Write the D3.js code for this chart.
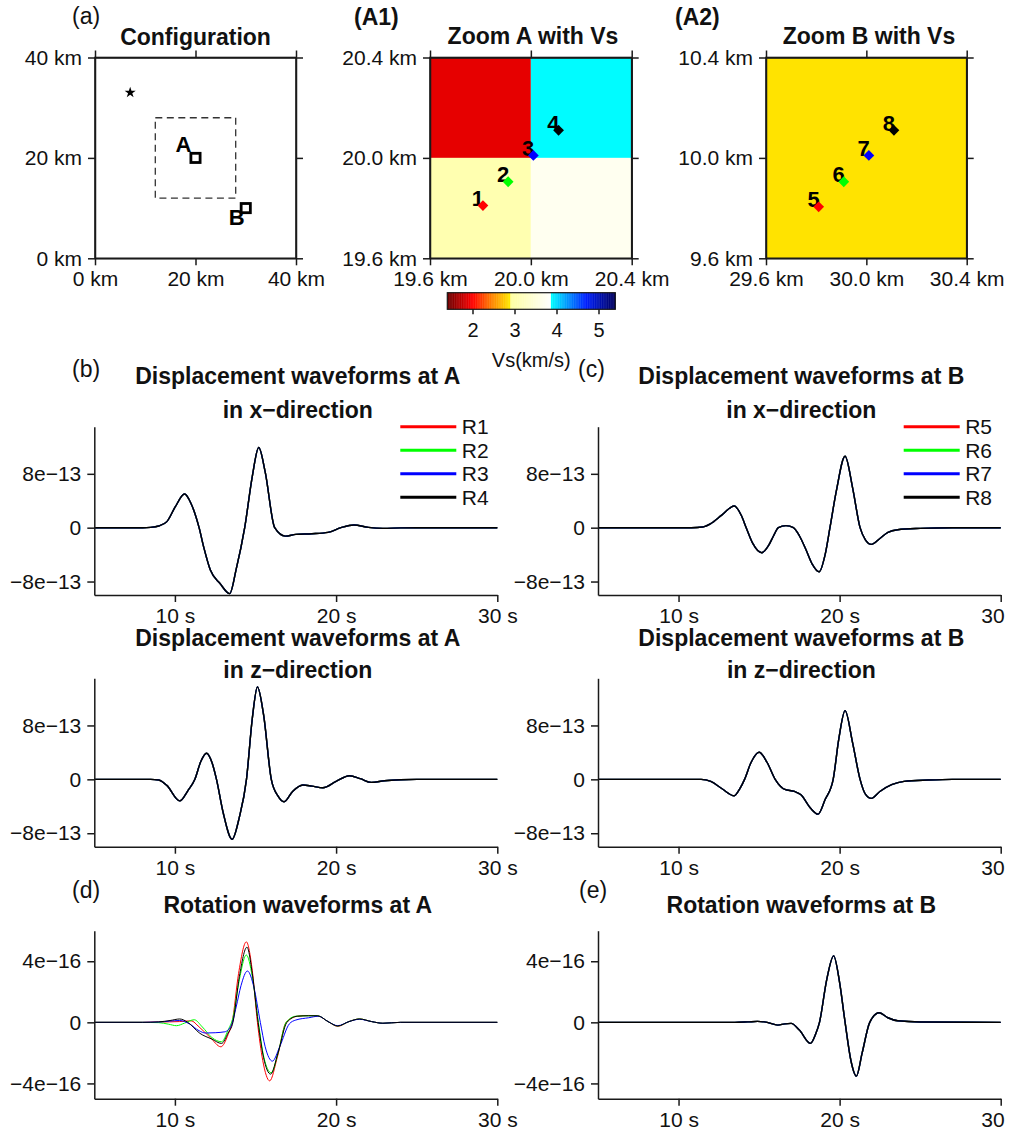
<!DOCTYPE html>
<html><head><meta charset="utf-8">
<script src="https://cdn.jsdelivr.net/npm/d3@7"></script>
<style>
body{margin:0;background:#fff;}
svg{display:block;font-family:"Liberation Sans",Arial,Helvetica,sans-serif;}
</style></head><body>
<svg id="chart" width="1009" height="1136"></svg>
<script>
// ---------------- DATA ----------------
// (a) configuration, km
const sourceXY = [7, 33];
const zoomBoxX = [12, 28];
const zoomBoxY = [12, 28];
const stationNames = ["A", "B"];
const stationX = [20, 30];
const stationY = [20, 10];
const configTicks = [0, 20, 40];

// (A1) Vs cells around A (km, km/s)
const cellAx0 = [19.6, 20.0, 19.6, 20.0];
const cellAx1 = [20.0, 20.4, 20.0, 20.4];
const cellAy0 = [20.0, 20.0, 19.6, 19.6];
const cellAy1 = [20.4, 20.4, 20.0, 20.0];
const cellAvs = [1.9, 3.88, 3.06, 3.72];
const zoomATicks = [19.6, 20.0, 20.4];
// (A2) Vs cell around B
const cellBx0 = [29.6], cellBx1 = [30.4], cellBy0 = [9.6], cellBy1 = [10.4], cellBvs = [2.87];
const zoomBTicksX = [29.6, 30.0, 30.4];
const zoomBTicksY = [9.6, 10.0, 10.4];

// receivers
const recALabels = ["1", "2", "3", "4"];
const recAX = [19.81, 19.91, 20.01, 20.11];
const recAY = [19.81, 19.905, 20.01, 20.11];
const recBLabels = ["5", "6", "7", "8"];
const recBX = [29.81, 29.91, 30.01, 30.11];
const recBY = [9.805, 9.905, 10.01, 10.11];
const recColors = ["#ff0000", "#00ff00", "#0000ff", "#000000"];

// colour palette for Vs
const cbDomain = [1.4, 2.0, 2.45, 2.9, 2.9001, 3.87, 3.8701, 4.7, 5.4];
const cbColors = ["#6a0000", "#ff0000", "#ff8000", "#ffea00", "#ffffa0", "#ffffff", "#00ffff", "#0020ff", "#00005a"];
const cbTicks = [2, 3, 4, 5];

// waveforms: time (s) and amplitude
const timeTicks = [10, 20, 30];
const dispTicks = [-8, 0, 8];              // x 1e-13
const dispTickLabels = ["\u22128e\u221213", "0", "8e\u221213"];
const rotTicks = [-4, 0, 4];               // x 1e-16
const rotTickLabels = ["\u22124e\u221216", "0", "4e\u221216"];
const legendA = ["R1", "R2", "R3", "R4"];
const legendB = ["R5", "R6", "R7", "R8"];

// Displacement at A, x-direction (1e-13)
const dispAX_t = [5, 8, 8.5, 9, 9.5, 10, 10.6, 11, 11.5, 11.8, 12.2, 12.8, 13.4, 13.8, 14.33, 14.8, 15.2, 15.6, 16.19, 16.85, 17.5, 18.5, 19.5, 20.3, 21.1, 22, 22.9, 24, 25, 30];
const dispAX_v = [0, 0, 0.05, 0.25, 0.9, 3.0, 5.0, 3.6, 0, -3.0, -6.3, -8.3, -9.8, -6.2, 0, 7.6, 11.9, 8.3, 0, -1.25, -1.0, -0.9, -0.7, 0, 0.4, 0.05, -0.1, -0.03, 0, 0];
// Displacement at A, z-direction
const dispAZ_t = [5, 8.5, 9, 9.5, 10.3, 10.8, 11.24, 11.6, 11.96, 12.3, 12.58, 13.0, 13.55, 14.0, 14.44, 14.8, 15.12, 15.5, 15.98, 16.4, 16.77, 17.3, 17.94, 18.5, 19.18, 20.0, 20.83, 21.5, 22.18, 23, 24, 25, 30];
const dispAZ_v = [0, 0, -0.1, -0.9, -3.2, -1.7, 0, 2.6, 3.87, 2.5, 0, -5.0, -8.9, -5.6, 0, 9.0, 13.7, 9.6, 0, -2.5, -3.33, -1.8, -0.85, -1.0, -1.25, -0.3, 0.54, 0.1, -0.45, -0.2, -0.05, 0, 0];
// Displacement at B, x-direction
const dispBX_t = [5, 10.8, 11.5, 12, 12.7, 13.46, 13.9, 14.2, 14.6, 15.17, 15.6, 15.9, 16.2, 16.67, 17.13, 17.5, 17.9, 18.3, 18.73, 19.1, 19.4, 19.8, 20.34, 20.8, 21.27, 21.6, 21.97, 22.5, 23.0, 23.6, 25, 27, 30];
const dispBX_v = [0, 0, 0.1, 0.6, 1.9, 3.23, 1.8, 0, -2.3, -3.72, -2.6, -1.2, 0, 0.3, 0, -1.2, -3.2, -5.4, -6.55, -4.0, 0, 5.5, 10.6, 6.0, 0, -1.8, -2.48, -1.6, -0.7, -0.3, -0.1, 0, 0];
// Displacement at B, z-direction
const dispBZ_t = [5, 11.4, 12.0, 12.7, 13.46, 13.8, 14.1, 14.5, 15.0, 15.5, 16.0, 16.6, 17.2, 17.6, 18.2, 18.66, 19.1, 19.6, 19.95, 20.34, 20.8, 21.27, 21.6, 21.97, 22.5, 23.23, 24, 25.5, 27, 30];
const dispBZ_v = [0, 0, -0.3, -1.4, -2.44, -1.4, 0, 2.5, 4.02, 2.5, 0, -1.5, -1.8, -2.3, -4.3, -5.17, -3.0, 0, 6.0, 10.2, 5.5, 0, -2.2, -2.83, -1.8, -0.8, -0.3, -0.1, 0, 0];

// Rotation at A (1e-16), receivers R1..R4
const rotA1_t = [5, 8, 9, 10.3, 11, 11.5, 12.2, 12.85, 13.3, 13.55, 13.95, 14.43, 14.8, 15.12, 15.45, 15.88, 16.35, 16.9, 17.6, 18.3, 18.85, 19.5, 20.1, 20.8, 21.45, 22.2, 22.9, 24, 30];
const rotA1_v = [0, 0, 0.02, 0.05, 0.1, -0.3, -1.0, -1.6, -0.8, 0, 3.2, 5.27, 3.4, 0, -2.5, -3.83, -2.3, 0, 0.4, 0.45, 0.43, 0.05, -0.26, 0.05, 0.22, 0.05, -0.06, 0, 0];
const rotA2_t = [5, 8, 9, 9.6, 10.1, 10.6, 11.2, 11.7, 12.3, 12.89, 13.3, 13.6, 14.0, 14.43, 14.8, 15.18, 15.5, 15.97, 16.4, 16.9, 17.5, 18.3, 18.85, 19.5, 20.1, 20.8, 21.45, 22.2, 22.9, 24, 30];
const rotA2_v = [0, 0, -0.02, -0.12, -0.22, -0.05, 0.17, -0.3, -1.0, -1.27, -0.5, 0.3, 2.8, 4.41, 3.0, 0, -2.2, -3.3, -2.0, 0, 0.4, 0.43, 0.43, 0.05, -0.24, 0.05, 0.22, 0.05, -0.06, 0, 0];
const rotA3_t = [5, 8, 9, 10.3, 10.9, 11.5, 11.9, 12.5, 13.1, 13.5, 13.8, 14.1, 14.5, 14.9, 15.3, 15.6, 16.05, 16.5, 17.1, 17.5, 18.3, 18.9, 19.5, 20.1, 20.8, 21.45, 22.2, 22.9, 24, 30];
const rotA3_v = [0, 0, 0.02, 0.12, -0.1, -0.55, -0.7, -0.68, -0.62, -0.2, 1.0, 2.4, 3.36, 2.3, 0, -1.6, -2.54, -1.6, -0.1, 0.15, 0.3, 0.4, 0.05, -0.22, 0.05, 0.2, 0.05, -0.06, 0, 0];
const rotA4_t = [5, 8, 9, 9.7, 10.3, 10.8, 11.55, 12.3, 12.89, 13.3, 13.6, 14.0, 14.47, 14.8, 15.16, 15.5, 15.94, 16.4, 16.95, 17.6, 18.3, 18.85, 19.5, 20.1, 20.8, 21.45, 22.2, 22.9, 24, 30];
const rotA4_v = [0, 0, 0.03, 0.12, 0.22, 0.0, -0.72, -1.1, -1.38, -0.7, 0, 3.0, 4.92, 3.2, 0, -2.3, -3.39, -2.0, 0, 0.4, 0.43, 0.43, 0.05, -0.24, 0.05, 0.22, 0.05, -0.06, 0, 0];
// Rotation at B (1e-16)
const rotB_t = [5, 13.5, 14.3, 14.9, 15.5, 16.16, 16.6, 16.99, 17.5, 18.19, 18.5, 18.75, 19.2, 19.63, 20.0, 20.34, 20.7, 21.04, 21.4, 21.87, 22.46, 23.0, 23.6, 25, 30];
const rotB_v = [0, 0, 0.03, 0.06, 0.0, -0.18, -0.1, -0.07, -0.5, -1.38, -0.8, 0, 2.8, 4.35, 2.6, 0, -2.5, -3.52, -2.0, 0, 0.63, 0.3, 0.1, 0.02, 0];

// ---------------- DRAWING ----------------
const svg = d3.select("#chart");
svg.append("rect").attr("width", 1009).attr("height", 1136).attr("fill", "#fff");
const FONT = '"Liberation Sans",Arial,Helvetica,sans-serif';
const AX = "#1a1a1a";
const cmap = d3.scaleLinear().domain(cbDomain).range(cbColors).clamp(true);

function styleAxis(sel, fs) {
  sel.attr("font-family", FONT).attr("font-size", fs);
  sel.selectAll("path.domain").attr("stroke", AX).attr("stroke-width", 1.5);
  sel.selectAll(".tick line").attr("stroke", AX).attr("stroke-width", 1.5);
  sel.selectAll(".tick text").attr("fill", "#111");
}

function text(x, y, s, opt = {}) {
  return svg.append("text").attr("x", x).attr("y", y).text(s)
    .attr("font-family", FONT).attr("font-size", opt.size || 21)
    .attr("font-weight", opt.bold ? "bold" : "normal")
    .attr("text-anchor", opt.anchor || "start").attr("fill", "#111");
}

// map-type panel
function mapPanel(cfg) {
  const x = d3.scaleLinear().domain(cfg.xDom).range([cfg.x0, cfg.x1]);
  const y = d3.scaleLinear().domain(cfg.yDom).range([cfg.yBot, cfg.yTop]);
  const g = svg.append("g");
  cfg.content(g, x, y);
  g.append("rect").attr("x", cfg.x0).attr("y", cfg.yTop).attr("width", cfg.x1 - cfg.x0)
    .attr("height", cfg.yBot - cfg.yTop).attr("fill", "none").attr("stroke", AX).attr("stroke-width", 1.6);
  const fmt = cfg.fmt;
  g.append("g").attr("transform", `translate(${cfg.x0},0)`)
    .call(d3.axisLeft(y).tickValues(cfg.yTicks).tickFormat(fmt).tickSize(7).tickSizeOuter(0).tickPadding(6)).call(s => styleAxis(s, 21));
  g.append("g").attr("transform", `translate(0,${cfg.yBot})`)
    .call(d3.axisBottom(x).tickValues(cfg.xTicks).tickFormat(fmt).tickSize(7).tickSizeOuter(0).tickPadding(6)).call(s => styleAxis(s, 21));
  g.append("g").attr("transform", `translate(${cfg.x1},0)`)
    .call(d3.axisRight(y).tickValues(cfg.yTicks).tickFormat("").tickSize(7).tickSizeOuter(0)).call(s => styleAxis(s, 21));
  g.append("g").attr("transform", `translate(0,${cfg.yTop})`)
    .call(d3.axisTop(x).tickValues(cfg.xTicks).tickFormat("").tickSize(7).tickSizeOuter(0)).call(s => styleAxis(s, 21));
  return { x, y, g };
}

const kmInt = d => d + " km";
const km1 = d => d3.format(".1f")(d) + " km";
const MAP_TOP = 57.5, MAP_BOT = 258.3;

// (a) Configuration
mapPanel({
  x0: 95, x1: 296, yTop: MAP_TOP, yBot: MAP_BOT, xDom: [0, 40], yDom: [0, 40],
  xTicks: configTicks, yTicks: configTicks, fmt: kmInt,
  content: (g, x, y) => {
    g.append("rect").attr("x", x(zoomBoxX[0])).attr("y", y(zoomBoxY[1]))
      .attr("width", x(zoomBoxX[1]) - x(zoomBoxX[0])).attr("height", y(zoomBoxY[0]) - y(zoomBoxY[1]))
      .attr("fill", "none").attr("stroke", "#333").attr("stroke-width", 1.3).attr("stroke-dasharray", "7,4.5");
    g.append("path").attr("d", d3.symbol(d3.symbolStar).size(38)())
      .attr("transform", `translate(${x(sourceXY[0])},${y(sourceXY[1])})`).attr("fill", "#000");
    stationNames.forEach((n, i) => {
      const cx = x(stationX[i]), cy = y(stationY[i]);
      if (i === 0) {
        g.append("text").attr("x", cx - 4).attr("y", cy - 6).text(n).attr("text-anchor", "end")
          .attr("font-family", FONT).attr("font-size", 22).attr("font-weight", "bold").attr("fill", "#000");
      } else {
        g.append("text").attr("x", cx - 1).attr("y", cy + 17).text(n).attr("text-anchor", "end")
          .attr("font-family", FONT).attr("font-size", 22).attr("font-weight", "bold").attr("fill", "#000");
      }
      g.append("rect").attr("x", cx - 4.6).attr("y", cy - 4.6).attr("width", 9.2).attr("height", 9.2)
        .attr("fill", "#fff").attr("stroke", "#000").attr("stroke-width", 2.8);
    });
  }
});

function receivers(g, x, y, xs, ys, labels) {
  labels.forEach((l, i) => {
    g.append("text").attr("x", x(xs[i]) + 1).attr("y", y(ys[i]) + 0.5).text(l).attr("text-anchor", "end")
      .attr("font-family", FONT).attr("font-size", 22).attr("font-weight", "bold").attr("fill", "#000");
  });
  labels.forEach((l, i) => {
    g.append("path").attr("d", d3.symbol(d3.symbolSquare).size(58)())
      .attr("transform", `translate(${x(xs[i])},${y(ys[i])}) rotate(45)`).attr("fill", recColors[i]);
  });
}

// (A1)
mapPanel({
  x0: 430, x1: 631.7, yTop: MAP_TOP, yBot: MAP_BOT, xDom: [19.6, 20.4], yDom: [19.6, 20.4],
  xTicks: zoomATicks, yTicks: zoomATicks, fmt: km1,
  content: (g, x, y) => {
    cellAvs.forEach((v, i) => {
      g.append("rect").attr("x", x(cellAx0[i])).attr("y", y(cellAy1[i]))
        .attr("width", x(cellAx1[i]) - x(cellAx0[i])).attr("height", y(cellAy0[i]) - y(cellAy1[i]))
        .attr("fill", cmap(v));
    });
    receivers(g, x, y, recAX, recAY, recALabels);
  }
});

// (A2)
mapPanel({
  x0: 766, x1: 966.7, yTop: MAP_TOP, yBot: MAP_BOT, xDom: [29.6, 30.4], yDom: [9.6, 10.4],
  xTicks: zoomBTicksX, yTicks: zoomBTicksY, fmt: km1,
  content: (g, x, y) => {
    cellBvs.forEach((v, i) => {
      g.append("rect").attr("x", x(cellBx0[i])).attr("y", y(cellBy1[i]))
        .attr("width", x(cellBx1[i]) - x(cellBx0[i])).attr("height", y(cellBy0[i]) - y(cellBy1[i]))
        .attr("fill", cmap(v));
    });
    receivers(g, x, y, recBX, recBY, recBLabels);
  }
});

// colour bar
(function () {
  const x0 = 447.3, x1 = 615.3, yT = 292.7, yB = 309.3;
  const cx = d3.scaleLinear().domain([cbDomain[0], cbDomain[cbDomain.length - 1]]).range([x0, x1]);
  const N = 240, dv = (cx.domain()[1] - cx.domain()[0]) / N;
  const g = svg.append("g");
  d3.range(N).forEach(i => {
    const v = cx.domain()[0] + i * dv;
    g.append("rect").attr("x", cx(v)).attr("y", yT).attr("width", cx(v + dv) - cx(v) + 0.4)
      .attr("height", yB - yT).attr("fill", cmap(v + dv / 2));
  });
  g.append("rect").attr("x", x0).attr("y", yT).attr("width", x1 - x0).attr("height", yB - yT)
    .attr("fill", "none").attr("stroke", AX).attr("stroke-width", 1.2);
  g.append("g").attr("transform", `translate(0,${yB})`)
    .call(d3.axisBottom(cx).tickValues(cbTicks).tickSize(5).tickPadding(9).tickFormat(d3.format("d")))
    .call(s => { styleAxis(s, 20); s.select(".domain").remove(); });
  text((x0 + x1) / 2, 367, "Vs(km/s)", { size: 20, anchor: "middle" });
})();

// waveform panel
const timeDomain = [5, 30];
function wavePanel(cfg) {
  const x = d3.scaleLinear().domain(timeDomain).range([cfg.x0, cfg.x1]);
  const y = d3.scaleLinear().domain(cfg.yDom).range([cfg.yBot, cfg.yTop]);
  const g = svg.append("g");
  const line = d3.line().x(d => x(d[0])).y(d => y(d[1])).curve(d3.curveMonotoneX);
  cfg.series.forEach((s, i) => {
    g.append("path").datum(d3.zip(s[0], s[1])).attr("d", line).attr("fill", "none")
      .attr("stroke", recColors[i]).attr("stroke-width", cfg.lw).attr("stroke-linejoin", "round");
  });
  g.append("g").attr("transform", `translate(${cfg.x0},0)`)
    .call(d3.axisLeft(y).tickValues(cfg.yTicks).tickFormat((d, i) => cfg.yLabels[i]).tickSize(7).tickSizeOuter(0).tickPadding(6))
    .call(s => styleAxis(s, 21));
  g.append("g").attr("transform", `translate(0,${cfg.yBot})`)
    .call(d3.axisBottom(x).tickValues(timeTicks).tickFormat(d => d + " s").tickSize(7).tickSizeOuter(0).tickPadding(6))
    .call(s => styleAxis(s, 21));
  if (cfg.legend) {
    cfg.legend.forEach((l, i) => {
      const yy = cfg.yTop + i * 23.5;
      g.append("line").attr("x1", cfg.x1 - 97).attr("x2", cfg.x1 - 41).attr("y1", yy).attr("y2", yy)
        .attr("stroke", recColors[i]).attr("stroke-width", 3);
      g.append("text").attr("x", cfg.x1 - 35.5).attr("y", yy).attr("dy", "0.36em").text(l)
        .attr("font-family", FONT).attr("font-size", 21).attr("fill", "#111");
    });
  }
}

const LX0 = 94.3, LX1 = 497.3, RX0 = 598, RX1 = 1000.7;
const rows = [{ top: 426.7, bot: 595 }, { top: 678.3, bot: 846.7 }, { top: 930.7, bot: 1098.7 }];
const dispDom = [-10, 15], rotDom = [-5, 6];

wavePanel({ x0: LX0, x1: LX1, yTop: rows[0].top, yBot: rows[0].bot, yDom: dispDom, yTicks: dispTicks, yLabels: dispTickLabels,
  series: [[dispAX_t, dispAX_v], [dispAX_t, dispAX_v], [dispAX_t, dispAX_v], [dispAX_t, dispAX_v]], lw: 1.4, legend: legendA });
wavePanel({ x0: RX0, x1: RX1, yTop: rows[0].top, yBot: rows[0].bot, yDom: dispDom, yTicks: dispTicks, yLabels: dispTickLabels,
  series: [[dispBX_t, dispBX_v], [dispBX_t, dispBX_v], [dispBX_t, dispBX_v], [dispBX_t, dispBX_v]], lw: 1.4, legend: legendB });
wavePanel({ x0: LX0, x1: LX1, yTop: rows[1].top, yBot: rows[1].bot, yDom: dispDom, yTicks: dispTicks, yLabels: dispTickLabels,
  series: [[dispAZ_t, dispAZ_v], [dispAZ_t, dispAZ_v], [dispAZ_t, dispAZ_v], [dispAZ_t, dispAZ_v]], lw: 1.4 });
wavePanel({ x0: RX0, x1: RX1, yTop: rows[1].top, yBot: rows[1].bot, yDom: dispDom, yTicks: dispTicks, yLabels: dispTickLabels,
  series: [[dispBZ_t, dispBZ_v], [dispBZ_t, dispBZ_v], [dispBZ_t, dispBZ_v], [dispBZ_t, dispBZ_v]], lw: 1.4 });
wavePanel({ x0: LX0, x1: LX1, yTop: rows[2].top, yBot: rows[2].bot, yDom: rotDom, yTicks: rotTicks, yLabels: rotTickLabels,
  series: [[rotA1_t, rotA1_v], [rotA2_t, rotA2_v], [rotA3_t, rotA3_v], [rotA4_t, rotA4_v]], lw: 1.0 });
wavePanel({ x0: RX0, x1: RX1, yTop: rows[2].top, yBot: rows[2].bot, yDom: rotDom, yTicks: rotTicks, yLabels: rotTickLabels,
  series: [[rotB_t, rotB_v], [rotB_t, rotB_v], [rotB_t, rotB_v], [rotB_t, rotB_v]], lw: 1.4 });

// titles and panel labels
text(72, 23.5, "(a)", { size: 23 });
text(195.5, 45, "Configuration", { size: 23, bold: true, anchor: "middle" });
text(354, 25, "(A1)", { size: 23, bold: true });
text(533, 44, "Zoom A with Vs", { size: 23, bold: true, anchor: "middle" });
text(675, 25, "(A2)", { size: 23, bold: true });
text(869, 44, "Zoom B with Vs", { size: 23, bold: true, anchor: "middle" });

text(72, 377, "(b)", { size: 23 });
text(578, 377, "(c)", { size: 23 });
text(72, 898, "(d)", { size: 23 });
text(579, 898, "(e)", { size: 23 });

const cL = (LX0 + LX1) / 2 + 2, cR = (RX0 + RX1) / 2 + 2;
text(cL, 384, "Displacement waveforms at A", { size: 23, bold: true, anchor: "middle" });
text(cL, 418, "in x\u2212direction", { size: 23, bold: true, anchor: "middle" });
text(cR, 384, "Displacement waveforms at B", { size: 23, bold: true, anchor: "middle" });
text(cR, 418, "in x\u2212direction", { size: 23, bold: true, anchor: "middle" });
text(cL, 646, "Displacement waveforms at A", { size: 23, bold: true, anchor: "middle" });
text(cL, 678, "in z\u2212direction", { size: 23, bold: true, anchor: "middle" });
text(cR, 646, "Displacement waveforms at B", { size: 23, bold: true, anchor: "middle" });
text(cR, 678, "in z\u2212direction", { size: 23, bold: true, anchor: "middle" });
text(cL, 913, "Rotation waveforms at A", { size: 23, bold: true, anchor: "middle" });
text(cR, 913, "Rotation waveforms at B", { size: 23, bold: true, anchor: "middle" });
</script>
</body></html>
